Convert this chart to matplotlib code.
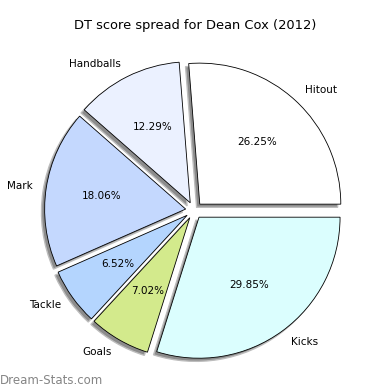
import matplotlib
matplotlib.use("Agg")
import matplotlib.pyplot as plt
from matplotlib.patches import Shadow

labels = ["Hitout", "Handballs", "Mark", "Tackle", "Goals", "Kicks"]
values = [26.25, 12.29, 18.06, 6.52, 7.02, 29.85]
colors = ["#ffffff", "#ebf1ff", "#c4d8fe", "#b4d5fe", "#d3ea8c", "#dbfefe"]
explode = [0.06] * 6

fig = plt.figure(figsize=(3.9, 3.9), dpi=100)
ax = fig.add_axes([0.0455, 0.0086, 0.904, 0.904])
wedges, texts, autotexts = ax.pie(values, labels=labels, colors=colors, explode=explode,
                                  autopct="%.2f%%",
                                  shadow={"ox": -0.016, "oy": -0.016},
                                  startangle=0,
                                  wedgeprops=dict(edgecolor="black", linewidth=0.6),
                                  textprops=dict(fontsize=7.5))
for p in ax.patches:
    if isinstance(p, Shadow):
        p.set_facecolor("#8c8c8c")
        p.set_edgecolor("#bdbdbd")
        p.set_linewidth(1.0)
        p.set_alpha(1.0)
ax.set_xlim(-1.25, 1.25)
ax.set_ylim(-1.25, 1.25)
ax.set_aspect("equal")
fig.text(0.5, 1 - 25 / 390, "DT score spread for Dean Cox (2012)", ha="center", va="center", fontsize=9.4)
fig.text(0.0, 1 - 380 / 390, "Dream-Stats.com", ha="left", va="center", fontsize=8.5,
         color="#858585", fontweight="medium")
fig.savefig("out.png", dpi=100)
